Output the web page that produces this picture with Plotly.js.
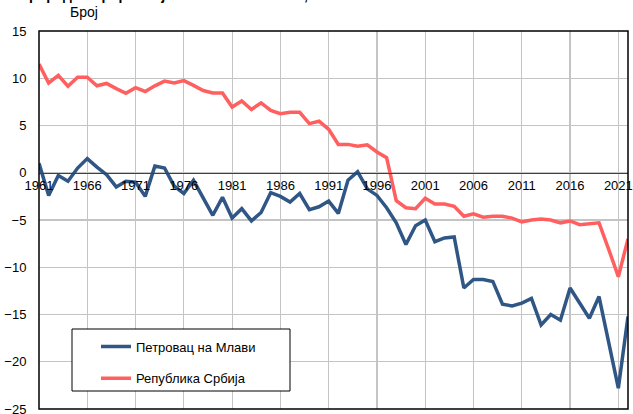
<!DOCTYPE html>
<html><head><meta charset="utf-8">
<script src="https://cdn.plot.ly/plotly-3.0.1.min.js"></script>
<style>html,body{margin:0;padding:0;background:#fff;} #chart{width:633px;height:414px;}</style>
</head><body><div id="chart"></div>
<script>
const years = [1961,1962,1963,1964,1965,1966,1967,1968,1969,1970,
  1971,1972,1973,1974,1975,1976,1977,1978,1979,1980,
  1981,1982,1983,1984,1985,1986,1987,1988,1989,1990,
  1991,1992,1993,1994,1995,1996,1997,1998,1999,2000,
  2001,2002,2003,2004,2005,2006,2007,2008,2009,2010,
  2011,2012,2013,2014,2015,2016,2017,2018,2019,2020,
  2021,2022];
const petrovac = [1.0,-2.4,-0.3,-0.9,0.5,1.5,0.6,-0.2,-1.5,-0.9,
  -1.0,-2.5,0.7,0.5,-1.4,-2.2,-0.8,-2.6,-4.5,-2.6,
  -4.8,-3.8,-5.1,-4.2,-2.1,-2.5,-3.1,-2.2,-3.9,-3.6,
  -3.0,-4.3,-0.8,0.1,-1.7,-2.4,-3.7,-5.3,-7.6,-5.6,
  -5.0,-7.3,-6.9,-6.8,-12.2,-11.3,-11.3,-11.5,-13.9,-14.1,
  -13.8,-13.3,-16.1,-15.0,-15.6,-12.2,-13.8,-15.4,-13.1,-18.0,
  -22.8,-15.2];
const srbija = [11.5,9.5,10.3,9.15,10.1,10.1,9.2,9.45,8.9,8.4,
  9.0,8.6,9.2,9.7,9.5,9.75,9.25,8.7,8.45,8.45,
  6.95,7.6,6.7,7.4,6.6,6.25,6.4,6.4,5.2,5.45,
  4.6,3.0,3.0,2.8,2.95,2.2,1.6,-2.95,-3.7,-3.8,
  -2.7,-3.3,-3.3,-3.55,-4.6,-4.35,-4.7,-4.6,-4.6,-4.8,
  -5.2,-5.0,-4.9,-5.0,-5.3,-5.1,-5.5,-5.4,-5.3,-8.1,
  -11.0,-7.0];
const xTicks = [1961,1966,1971,1976,1981,1986,1991,1996,2001,2006,2011,2016,2021];
const yTicks = [-25,-20,-15,-10,-5,0,5,10,15];
const seriesNames = ['Петровац на Млави', 'Република Србија'];
const titleText = 'Природни прираштај на 1000 становника, 1961-2022';
const yLabel = 'Број';

const FONT = 'Liberation Sans, Arial, sans-serif';
const traces = [
  {x: years, y: petrovac, name: seriesNames[0], type: 'scatter', mode: 'lines',
   line: {color: '#2F5684', width: 3.5}, legendgroup: 'a'},
  {x: years, y: srbija, name: seriesNames[1], type: 'scatter', mode: 'lines',
   line: {color: '#FF5F5F', width: 3.5}, legendgroup: 'b'}
];
const layout = {
  width: 633, height: 414,
  margin: {l: 39, r: 5, t: 31, b: 5},
  paper_bgcolor: '#fff', plot_bgcolor: '#fff',
  font: {family: FONT, size: 13, color: '#000'},
  title: {text: '<b>' + titleText + '</b>', font: {family: FONT, size: 14, color: '#000'},
    x: 0.03, xref: 'container', xanchor: 'left', y: 1.0, yref: 'container', yanchor: 'bottom'},
  xaxis: {range: [1961, 2022], anchor: 'free', position: 0.625, showline: true,
    linecolor: '#404040', linewidth: 1.5, tickmode: 'array', tickvals: xTicks,
    ticktext: xTicks.map(String), showgrid: true, gridcolor: '#c4c4c4', gridwidth: 1.2,
    zeroline: false, ticks: '', tickfont: {family: FONT, size: 13, color: '#000'}},
  yaxis: {range: [-25, 15], tickmode: 'array', tickvals: yTicks, showgrid: true,
    gridcolor: '#c4c4c4', gridwidth: 1.2, zeroline: false, ticks: 'outside', ticklen: 9,
    tickcolor: 'rgba(0,0,0,0)', showline: false, ticklabeloverflow: 'allow',
    tickfont: {family: FONT, size: 13, color: '#000'}},
  showlegend: true,
  legend: {x: (96 - 39) / 589, xanchor: 'left', y: 0.205, yanchor: 'top',
    bgcolor: 'rgba(0,0,0,0)', borderwidth: 0, traceorder: 'grouped', tracegroupgap: 12,
    font: {family: FONT, size: 13, color: '#000'}},
  shapes: [
    {type: 'rect', xref: 'paper', yref: 'paper', x0: 0, x1: 1, y0: 0, y1: 1,
     line: {color: '#000', width: 1.5}, fillcolor: 'rgba(0,0,0,0)', layer: 'above'},
    {type: 'rect', xref: 'paper', yref: 'paper', x0: (72 - 39) / 589, x1: (290 - 39) / 589,
     y0: (409 - 391) / 378, y1: (409 - 329) / 378,
     line: {color: '#000', width: 1}, fillcolor: '#fff', layer: 'above'}
  ],
  annotations: [
    {text: yLabel, xref: 'paper', yref: 'paper', x: (68 - 39) / 589, xanchor: 'left',
     y: (409 - 12) / 378, yanchor: 'middle', showarrow: false,
     font: {family: FONT, size: 14, color: '#000'}}
  ]
};
Plotly.newPlot('chart', traces, layout, {displayModeBar: false, staticPlot: true});
</script>
</body></html>
